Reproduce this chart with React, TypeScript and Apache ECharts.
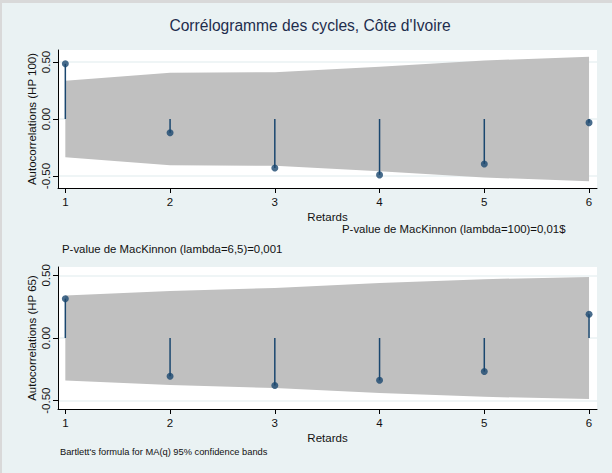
import React, { useEffect, useRef } from "react";
import * as echarts from "echarts";

const lags = [1, 2, 3, 4, 5, 6];
const acfHP100 = [0.484, -0.12, -0.43, -0.49, -0.394, -0.032];
const bandHP100 = [0.335, 0.406, 0.41, 0.458, 0.513, 0.546];
const acfHP65 = [0.314, -0.306, -0.38, -0.338, -0.268, 0.19];
const bandHP65 = [0.34, 0.375, 0.4, 0.44, 0.47, 0.487];
const yTicks = [-0.5, 0, 0.5];
const xTicks = [1, 2, 3, 4, 5, 6];

const titleText = "Corrélogramme des cycles, Côte d'Ivoire";
const note100 = "P-value de MacKinnon (lambda=100)=0,01$";
const note65 = "P-value de MacKinnon (lambda=6,5)=0,001";
const bartlettNote = "Bartlett's formula for MA(q) 95% confidence bands";
const xName = "Retards";
const yName100 = "Autocorrelations (HP 100)";
const yName65 = "Autocorrelations (HP 65)";

const FONT = "'Liberation Sans', Arial, sans-serif";
const NAVY = "#1a476f";
const BG = "#eaf2f3";
const FS = 11.5;

function bandSeries(gridIdx: number, band: number[]) {
  return {
    type: "custom",
    xAxisIndex: gridIdx,
    yAxisIndex: gridIdx,
    z: 1,
    silent: true,
    data: lags.map((l, i) => [l, band[i]]),
    renderItem: (params: any, api: any) => {
      if (params.dataIndex !== 0) return null;
      const upper = lags.map((l, i) => api.coord([l, band[i]]));
      const lower = lags.map((l, i) => api.coord([l, -band[i]])).reverse();
      return {
        type: "polygon",
        shape: { points: upper.concat(lower) },
        style: { fill: "#c0c0c0", stroke: null },
      };
    },
  };
}

function stemSeries(gridIdx: number, vals: number[]) {
  return {
    type: "custom",
    xAxisIndex: gridIdx,
    yAxisIndex: gridIdx,
    z: 2,
    silent: true,
    data: lags.map((l, i) => [l, vals[i]]),
    renderItem: (params: any, api: any) => {
      const p0 = api.coord([api.value(0), 0]);
      const p1 = api.coord([api.value(0), api.value(1)]);
      return {
        type: "line",
        shape: { x1: p0[0], y1: p0[1], x2: p1[0], y2: p1[1] },
        style: { stroke: NAVY, lineWidth: 1.5 },
      };
    },
  };
}

function dotSeries(gridIdx: number, vals: number[]) {
  return {
    type: "scatter",
    xAxisIndex: gridIdx,
    yAxisIndex: gridIdx,
    z: 3,
    silent: true,
    symbol: "circle",
    symbolSize: 7,
    itemStyle: { color: NAVY },
    data: lags.map((l, i) => [l, vals[i]]),
  };
}

function xAxisDef(gridIdx: number) {
  return {
    type: "value",
    gridIndex: gridIdx,
    min: 0.93,
    max: 6.076,
    name: xName,
    nameLocation: "middle",
    nameGap: 23,
    nameMoveOverlap: false,
    nameTextStyle: { fontSize: FS, color: "#111", fontFamily: FONT },
    axisLine: { show: true, onZero: false, lineStyle: { color: "#000", width: 1 } },
    axisTick: { show: true, length: 5, customValues: xTicks, lineStyle: { color: "#000" } },
    axisLabel: {
      customValues: xTicks,
      fontSize: FS,
      color: "#111",
      fontFamily: FONT,
      margin: 8,
      formatter: (v: number) => String(v),
    },
    splitLine: { show: false },
  };
}

function yAxisDef(gridIdx: number, lim: number, name: string) {
  return {
    type: "value",
    gridIndex: gridIdx,
    min: -lim,
    max: lim,
    name,
    nameLocation: "middle",
    nameGap: 20,
    nameMoveOverlap: false,
    nameTextStyle: { fontSize: FS, color: "#111", fontFamily: FONT },
    axisLine: { show: true, onZero: false, lineStyle: { color: "#000", width: 1 } },
    axisTick: { show: true, length: 5, customValues: yTicks, lineStyle: { color: "#000" } },
    axisLabel: {
      customValues: yTicks,
      rotate: 90,
      fontSize: FS,
      color: "#111",
      fontFamily: FONT,
      margin: 6,
      formatter: (v: number) => v.toFixed(2),
    },
    splitLine: { show: true, lineStyle: { color: BG, width: 1.5 } },
  };
}

export default function App() {
  const ref = useRef<HTMLDivElement>(null);
  useEffect(() => {
    if (!ref.current) return;
    const chart = echarts.init(ref.current, null, { renderer: "svg" });
    chart.setOption({
      animation: false,
      backgroundColor: BG,
      grid: [
        {
          left: 58, right: 15, top: 50, height: 138,
          show: true, backgroundColor: "#fff", borderWidth: 0,
          containLabel: false, outerBoundsMode: "none",
        },
        {
          left: 58, right: 15, top: 267, height: 142,
          show: true, backgroundColor: "#fff", borderWidth: 0,
          containLabel: false, outerBoundsMode: "none",
        },
      ],
      xAxis: [xAxisDef(0), xAxisDef(1)],
      yAxis: [yAxisDef(0, 0.605, yName100), yAxisDef(1, 0.567, yName65)],
      series: [
        bandSeries(0, bandHP100),
        stemSeries(0, acfHP100),
        dotSeries(0, acfHP100),
        bandSeries(1, bandHP65),
        stemSeries(1, acfHP65),
        dotSeries(1, acfHP65),
      ],
      graphic: [
        { type: "rect", shape: { x: 0, y: 0, width: 612, height: 3 }, style: { fill: "#d9d9d9" }, silent: true },
        { type: "rect", shape: { x: 0, y: 0, width: 2, height: 473 }, style: { fill: "#d9d9d9" }, silent: true },
        {
          type: "text", x: 310, y: 25,
          style: { text: titleText, fill: "#1e2d4d", fontSize: 15.6, fontFamily: FONT, textAlign: "center", textVerticalAlign: "middle" },
        },
        {
          type: "text", x: 342, y: 229,
          style: { text: note100, fill: "#111", fontSize: 11.4, fontFamily: FONT, textAlign: "left", textVerticalAlign: "middle" },
        },
        {
          type: "text", x: 62, y: 249,
          style: { text: note65, fill: "#111", fontSize: 11.4, fontFamily: FONT, textAlign: "left", textVerticalAlign: "middle" },
        },
        {
          type: "text", x: 60, y: 452,
          style: { text: bartlettNote, fill: "#111", fontSize: 9.3, fontFamily: FONT, textAlign: "left", textVerticalAlign: "middle" },
        },
      ],
    });
    return () => chart.dispose();
  }, []);
  return (
    <div
      ref={ref}
      style={{ position: "fixed", left: 0, top: 0, width: 612, height: 473 }}
    />
  );
}
